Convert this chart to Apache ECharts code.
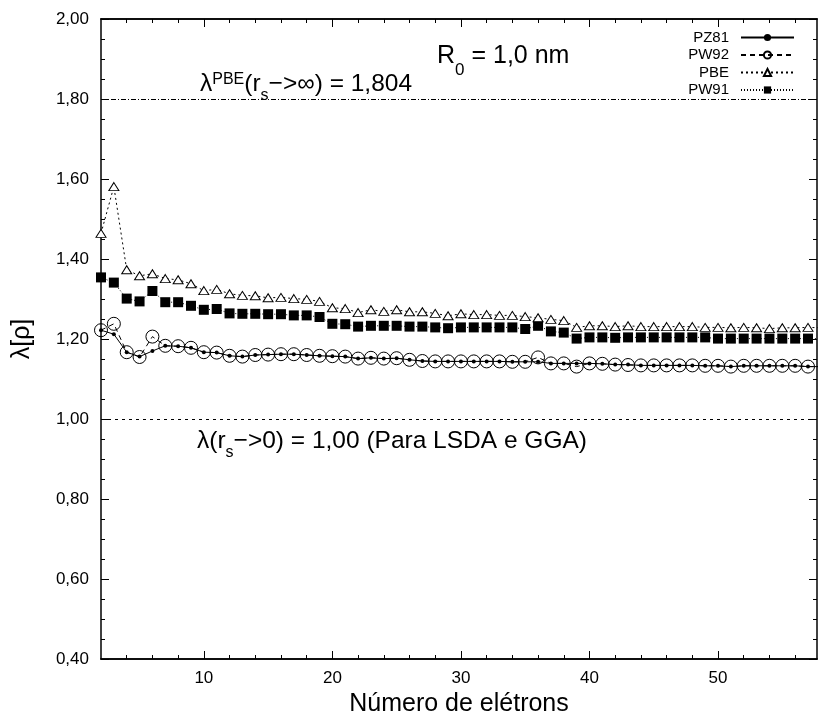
<!DOCTYPE html>
<html><head><meta charset="utf-8">
<script src="https://cdn.jsdelivr.net/npm/echarts@6/dist/echarts.min.js"></script>
<style>html,body{margin:0;padding:0;background:#fff}#c{width:818px;height:715px}</style>
</head><body><div id="c"></div>
<script>
// ---- data ----
const electrons = [2,3,4,5,6,7,8,9,10,11,12,13,14,15,16,17,18,19,20,21,22,23,24,25,26,27,28,29,30,
  31,32,33,34,35,36,37,38,39,40,41,42,43,44,45,46,47,48,49,50,51,52,53,54,55,56,57,58];
const pz81 = [1.222,1.212,1.167,1.156,1.170,1.183,1.182,1.178,1.167,1.166,1.158,1.156,1.160,1.161,1.162,1.162,1.160,1.158,1.157,1.156,
  1.151,1.153,1.151,1.152,1.148,1.145,1.144,1.144,1.144,1.144,1.144,1.144,1.143,1.143,1.143,1.139,1.139,1.139,1.139,1.138,
  1.136,1.136,1.134,1.134,1.134,1.134,1.134,1.133,1.133,1.131,1.133,1.133,1.133,1.133,1.133,1.131,1.131];
const pw92 = [1.222,1.238,1.167,1.155,1.206,1.183,1.182,1.178,1.167,1.166,1.158,1.156,1.160,1.161,1.162,1.162,1.160,1.158,1.157,1.156,
  1.151,1.153,1.151,1.152,1.148,1.145,1.144,1.144,1.144,1.144,1.144,1.144,1.143,1.143,1.154,1.139,1.139,1.131,1.139,1.138,
  1.136,1.135,1.134,1.134,1.134,1.134,1.134,1.133,1.133,1.131,1.133,1.133,1.133,1.133,1.133,1.131,1.131];
const pbe = [1.464,1.581,1.373,1.358,1.363,1.351,1.348,1.338,1.321,1.324,1.313,1.309,1.308,1.303,1.304,1.301,1.299,1.294,1.278,1.276,
  1.266,1.273,1.269,1.273,1.268,1.268,1.264,1.258,1.263,1.261,1.261,1.259,1.259,1.256,1.253,1.249,1.246,1.229,1.233,1.233,
  1.231,1.233,1.231,1.231,1.231,1.231,1.231,1.229,1.229,1.228,1.229,1.228,1.226,1.228,1.228,1.229,1.228];
const pw91 = [1.354,1.341,1.301,1.294,1.320,1.292,1.292,1.283,1.273,1.275,1.264,1.263,1.263,1.262,1.262,1.259,1.259,1.255,1.238,1.237,
  1.231,1.233,1.233,1.233,1.231,1.231,1.229,1.227,1.229,1.229,1.229,1.229,1.229,1.225,1.233,1.219,1.216,1.201,1.204,1.204,
  1.203,1.204,1.204,1.204,1.204,1.204,1.204,1.204,1.201,1.201,1.201,1.201,1.201,1.201,1.201,1.201,1.201];
const refLimitInf = 1.804;
const refLimitZero = 1.00;
const xMajorTicks = [10,20,30,40,50];
const xMinorTicks = [4,6,8,12,14,16,18,22,24,26,28,32,34,36,38,42,44,46,48,52,54,56];
const xMin = 2, xMax = 57.7;
const yMin = 0.4, yMax = 2.0, yStep = 0.2;

// ---- chart ----
const FONT = 'Liberation Sans, Arial, Helvetica, sans-serif';
const pairs = arr => electrons.map((n, i) => [n, arr[i]]);
const axisLine = {show: true, onZero: false, lineStyle: {color: '#000', width: 1.5}};
function xAxisDef(pos, ticks, len, labels) {
  return {
    type: 'value', position: pos, min: xMin, max: xMax,
    axisLine: axisLine,
    axisTick: {show: true, inside: true, length: len, customValues: ticks, lineStyle: {color: '#000', width: 1}},
    axisLabel: labels ? {show: true, customValues: ticks, margin: 11, color: '#000', fontSize: 17, fontFamily: FONT} : {show: false},
    splitLine: {show: false}
  };
}
function yAxisDef(pos, labels) {
  return {
    type: 'value', position: pos, min: yMin, max: yMax, interval: yStep,
    axisLine: axisLine,
    axisTick: {show: true, inside: true, length: 8, lineStyle: {color: '#000', width: 1}},
    minorTick: {show: true, splitNumber: 4, length: 4, lineStyle: {color: '#000', width: 1}},
    axisLabel: labels ? {show: true, margin: 12, color: '#000', fontSize: 17, fontFamily: FONT,
      formatter: v => v.toFixed(2).replace('.', ',')} : {show: false},
    splitLine: {show: false},
    name: labels ? 'λ[ρ]' : '', nameLocation: 'middle', nameGap: 66, nameRotate: 90,
    nameTextStyle: {fontSize: 25, fontFamily: FONT, color: '#000'}
  };
}
const xb = xAxisDef('bottom', xMajorTicks, 8, true);
xb.name = 'Número de elétrons'; xb.nameLocation = 'middle'; xb.nameGap = 32;
xb.nameTextStyle = {fontSize: 25, fontFamily: FONT, color: '#000'};

const rich = {
  m: {fontSize: 24.5, fontFamily: FONT, lineHeight: 30, verticalAlign: 'top', fill: '#000'},
  sup: {fontSize: 16, fontFamily: FONT, lineHeight: 16, verticalAlign: 'top', fill: '#000'},
  sub: {fontSize: 16, fontFamily: FONT, lineHeight: 16, padding: [16, 0, 0, 0], verticalAlign: 'top', fill: '#000'},
  mr: {fontSize: 25, fontFamily: FONT, lineHeight: 30, verticalAlign: 'top', fill: '#000'},
  subr: {fontSize: 17, fontFamily: FONT, lineHeight: 17, padding: [18, 0, 0, 0], verticalAlign: 'top', fill: '#000'}
};

const chart = echarts.init(document.getElementById('c'), null, {renderer: 'canvas'});
chart.setOption({
  backgroundColor: '#fff',
  animation: false,
  grid: {left: 101, right: 1, top: 19, bottom: 56, containLabel: false, outerBoundsMode: 'none'},
  xAxis: [
    xAxisDef('bottom', xMinorTicks, 4, false), xb,
    xAxisDef('top', xMinorTicks, 4, false), xAxisDef('top', xMajorTicks, 8, false)
  ],
  yAxis: [yAxisDef('left', true), yAxisDef('right', false)],
  legend: {
    orient: 'vertical', right: 18, top: 24, align: 'right',
    itemWidth: 53, itemHeight: 9, itemGap: 0.5,
    textStyle: {fontSize: 15, fontFamily: FONT, color: '#000', padding: [0, 7, 0, 0], lineHeight: 17},
    data: ['PZ81', 'PW92', 'PBE', 'PW91']
  },
  series: [
    {name: 'PW91', type: 'line', data: pairs(pw91), symbol: 'rect', symbolSize: 10,
      lineStyle: {color: '#000', width: 1, type: [1, 2]}, itemStyle: {color: '#000'}, z: 2},
    {name: 'PBE', type: 'line', data: pairs(pbe), symbol: 'triangle', symbolSize: [10, 8],
      lineStyle: {color: '#000', width: 1, type: [2, 3]}, itemStyle: {color: '#fff', borderColor: '#000', borderWidth: 1}, z: 3},
    {name: 'PW92', type: 'line', data: pairs(pw92), symbol: 'circle', symbolSize: 13,
      lineStyle: {color: '#000', width: 1, type: [5, 4]}, itemStyle: {color: 'rgba(0,0,0,0)', borderColor: '#000', borderWidth: 1}, z: 4},
    {name: 'PZ81', type: 'line', data: pairs(pz81), symbol: 'circle', symbolSize: 4,
      lineStyle: {color: '#000', width: 1}, itemStyle: {color: '#000'}, z: 5,
      markLine: {silent: true, symbol: 'none', label: {show: false},
        data: [
          {yAxis: refLimitInf, lineStyle: {color: '#000', width: 1, type: [5, 2, 1, 2]}},
          {yAxis: refLimitZero, lineStyle: {color: '#000', width: 1, type: [3, 4]}}
        ]}}
  ],
  graphic: [
    {type: 'text', x: 437, y: 44, style: {text: '{mr|R}{subr|0}{mr| = 1,0 nm}', rich: rich}},
    {type: 'text', x: 200, y: 72, style: {text: '{m|λ}{sup|PBE}{m|(r}{sub|s}{m|−>∞) = 1,804}', rich: rich}},
    {type: 'text', x: 197, y: 429, style: {text: '{m|λ(r}{sub|s}{m|−>0) = 1,00 (Para LSDA e GGA)}', rich: rich}}
  ]
});
</script></body></html>
